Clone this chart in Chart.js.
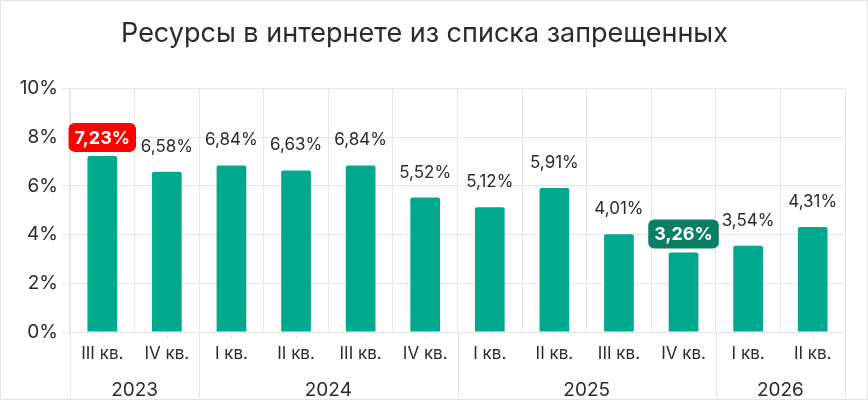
<!DOCTYPE html>
<html lang="ru">
<head>
<meta charset="utf-8">
<script src="https://cdn.jsdelivr.net/npm/chart.js@4.4.1/dist/chart.umd.min.js"></script>
<style>
html, body { margin: 0; padding: 0; background: #fff; }
#wrap { position: relative; width: 868px; height: 404px; }
#frame { position: absolute; left: 0; top: 0; width: 866px; height: 398px; border: 1px solid #e3e3e3; pointer-events: none; }
</style>
</head>
<body>
<div id="wrap"><canvas id="chart"></canvas><div id="frame"></div></div>
<script>
const title = 'Ресурсы в интернете из списка запрещенных';
const quarters = ['III кв.', 'IV кв.', 'I кв.', 'II кв.', 'III кв.', 'IV кв.', 'I кв.', 'II кв.', 'III кв.', 'IV кв.', 'I кв.', 'II кв.'];
const years = ['2023', '2024', '2025', '2026'];
const yearSpans = [2, 4, 4, 2];
const values = [7.23, 6.58, 6.84, 6.63, 6.84, 5.52, 5.12, 5.91, 4.01, 3.26, 3.54, 4.31];
const yMax = 10;
const yStep = 2;

const FONT = 'Inter, "Noto Sans", sans-serif';
const TEXT = '#2b2b2b';
const GRID = '#e6e6e6';
const BAR = '#00a88e';

const fmt = v => v.toFixed(2).replace('.', ',') + '%';
const maxIdx = values.indexOf(Math.max(...values));
const minIdx = values.indexOf(Math.min(...values));

function roundRect(ctx, x, y, w, h, r) {
    ctx.beginPath();
    ctx.moveTo(x + r, y);
    ctx.arcTo(x + w, y, x + w, y + h, r);
    ctx.arcTo(x + w, y + h, x, y + h, r);
    ctx.arcTo(x, y + h, x, y, r);
    ctx.arcTo(x, y, x + w, y, r);
    ctx.closePath();
}

// value labels above the bars, max and min get a badge
const valueLabels = {
    id: 'valueLabels',
    afterDatasetsDraw(chart) {
        const ctx = chart.ctx;
        const meta = chart.getDatasetMeta(0);
        ctx.save();
        ctx.textAlign = 'center';
        meta.data.forEach((bar, i) => {
            const text = fmt(values[i]);
            if (i === maxIdx || i === minIdx) {
                ctx.font = `bold 18px ${FONT}`;
                const w = ctx.measureText(text).width + 12;
                const h = 29;
                const bottom = bar.y - 4;
                ctx.fillStyle = i === maxIdx ? '#ff0000' : '#0b7d63';
                roundRect(ctx, bar.x - w / 2, bottom - h, w, h, 6);
                ctx.fill();
                ctx.fillStyle = '#ffffff';
                ctx.textBaseline = 'middle';
                ctx.fillText(text, bar.x, bottom - h / 2 + 1);
            } else {
                ctx.font = `17px ${FONT}`;
                ctx.fillStyle = TEXT;
                ctx.textBaseline = 'alphabetic';
                ctx.fillText(text, bar.x, bar.y - 20);
            }
        });
        ctx.restore();
    }
};

// quarter tick marks, year separators and year labels under the axis
const yearAxis = {
    id: 'yearAxis',
    afterDraw(chart) {
        const ctx = chart.ctx;
        const x = chart.scales.x;
        const area = chart.chartArea;
        const edge = i => {
            if (i <= 0) return area.left;
            if (i >= quarters.length) return area.right;
            return (x.getPixelForValue(i - 1) + x.getPixelForValue(i)) / 2;
        };
        ctx.save();
        ctx.strokeStyle = GRID;
        ctx.lineWidth = 1;
        ctx.beginPath();
        quarters.forEach((q, i) => {
            const px = Math.round(x.getPixelForValue(i)) + 0.5;
            ctx.moveTo(px, area.bottom);
            ctx.lineTo(px, area.bottom + 6);
        });
        let start = 0;
        const bounds = [0];
        yearSpans.forEach(s => { start += s; bounds.push(start); });
        bounds.forEach(b => {
            const px = Math.round(edge(b)) + 0.5;
            ctx.moveTo(px, area.bottom);
            ctx.lineTo(px, area.bottom + 66);
        });
        ctx.stroke();

        ctx.fillStyle = TEXT;
        ctx.font = `19px ${FONT}`;
        ctx.textAlign = 'center';
        ctx.textBaseline = 'middle';
        years.forEach((y, k) => {
            const cx = (edge(bounds[k]) + edge(bounds[k + 1])) / 2;
            ctx.fillText(y, cx, area.bottom + 58);
        });
        ctx.restore();
    }
};

new Chart(document.getElementById('chart'), {
    type: 'bar',
    data: {
        labels: quarters,
        datasets: [{
            data: values,
            backgroundColor: BAR,
            borderRadius: 2,
            borderSkipped: 'bottom',
            barPercentage: 0.46,
            categoryPercentage: 1
        }]
    },
    options: {
        responsive: true,
        maintainAspectRatio: false,
        animation: false,
        layout: { padding: { left: 4, right: 23, top: 0, bottom: 0 } },
        plugins: {
            legend: { display: false },
            tooltip: { enabled: false },
            title: {
                display: true,
                text: title,
                color: TEXT,
                font: { family: FONT, size: 27, weight: 'normal', lineHeight: 1.2 },
                padding: { top: 18, bottom: 38 }
            }
        },
        scales: {
            x: {
                grid: {
                    offset: true,
                    drawTicks: false,
                    color: ctx => (ctx.index >= quarters.length ? 'rgba(0,0,0,0)' : GRID)
                },
                border: { display: true, color: GRID },
                ticks: {
                    color: TEXT,
                    font: { family: FONT, size: 17 },
                    padding: 12,
                    maxRotation: 0,
                    autoSkip: false
                },
                afterFit: s => { s.height = 72; }
            },
            y: {
                min: 0,
                max: yMax,
                grid: { color: GRID, tickLength: 8 },
                border: { display: true, color: GRID },
                ticks: {
                    stepSize: yStep,
                    color: TEXT,
                    font: { family: FONT, size: 19 },
                    padding: 4,
                    callback: v => v + '%'
                },
                afterFit: s => { s.width = 66; }
            }
        }
    },
    plugins: [valueLabels, yearAxis]
});
</script>
</body>
</html>
